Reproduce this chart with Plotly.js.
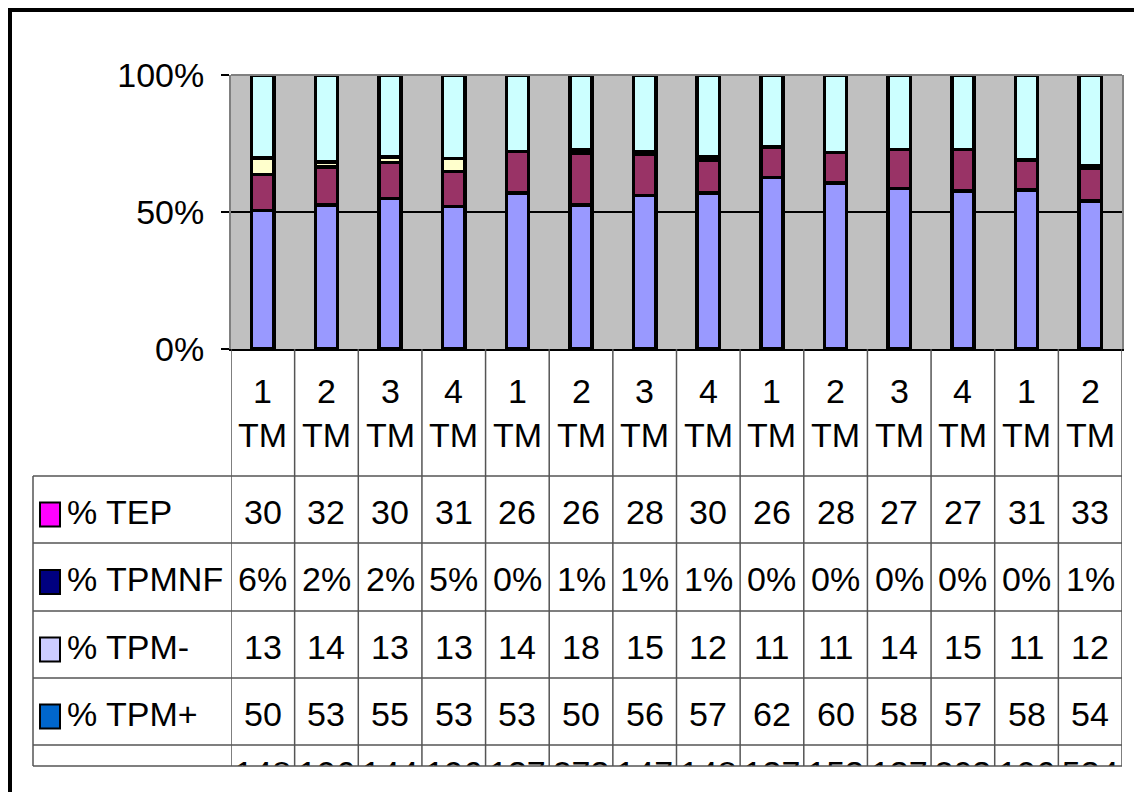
<!DOCTYPE html>
<html>
<head>
<meta charset="utf-8">
<script src="https://cdn.plot.ly/plotly-3.0.1.min.js"></script>
<style>html,body{margin:0;padding:0;background:#fff;}#chart{width:1134px;height:792px;}</style>
</head>
<body>
<div id="chart"></div>
<script>
// ---- data ----
const categories = ['1','2','3','4','1','2','3','4','1','2','3','4','1','2'];
const periodUnit = 'TM';
const seriesNames = ['% TEP', '% TPMNF', '% TPM-', '% TPM+'];
const tep      = [30, 32, 30, 31, 26, 26, 28, 30, 26, 28, 27, 27, 31, 33];
const tpmnf    = [6, 2, 2, 5, 0, 1, 1, 1, 0, 0, 0, 0, 0, 1];
const tpmMinus = [13, 14, 13, 13, 14, 18, 15, 12, 11, 11, 14, 15, 11, 12];
const tpmPlus  = [50, 53, 55, 53, 53, 50, 56, 57, 62, 60, 58, 57, 58, 54];
const nCount   = [148, 196, 144, 196, 137, 273, 147, 148, 137, 153, 137, 203, 196, 534];
const yTickVals = [0, 50, 100];
const yTickText = ['0%', '50%', '100%'];

// ---- styling ----
const W = 1134, H = 792;
const FONT = "'Liberation Sans Narrow', 'Arial Narrow', 'Liberation Sans', Arial, sans-serif";
const FS = 34;
const barColors = {'% TEP':'#CCFFFF', '% TPMNF':'#FFFFCC', '% TPM-':'#993366', '% TPM+':'#9999FF'};
const keyColors = {'% TEP':'#FF00FF', '% TPMNF':'#000080', '% TPM-':'#CCCCFF', '% TPM+':'#0066CC'};
const px = p => p / W;
const py = p => 1 - p / H;

const plotL = 231, plotR = 1122, plotT = 75, plotB = 349;
const tableL = 33;
const rowLines = [476, 543, 611, 678, 745, 766];

const xs = categories.map((_, i) => i);
const seriesData = {'% TEP': tep, '% TPMNF': tpmnf, '% TPM-': tpmMinus, '% TPM+': tpmPlus};
const stackOrder = ['% TPM+', '% TPM-', '% TPMNF', '% TEP'];

const traces = stackOrder.map(name => ({
  type: 'bar', x: xs, y: seriesData[name], name: name,
  width: 0.35,
  marker: {color: barColors[name], line: {color: '#000', width: 3.5}},
  hoverinfo: 'skip', xaxis: 'x', yaxis: 'y'
}));

// clipped last row of the data table (only the tops of the numbers show)
traces.push({
  type: 'scatter', mode: 'text', x: xs, y: xs.map(() => -0.5),
  text: nCount.map(String), textposition: 'middle center',
  textfont: {family: FONT, size: FS, color: '#000'},
  cliponaxis: true, hoverinfo: 'skip', xaxis: 'x2', yaxis: 'y2', showlegend: false
});

const shapes = [];
const annotations = [];
// gray plot background
shapes.push({type:'rect', xref:'x domain', yref:'y domain', x0:0, x1:1, y0:0, y1:1,
  fillcolor:'#C0C0C0', line:{width:0}, layer:'below'});
// top border of plot area
shapes.push({type:'line', xref:'x domain', yref:'y domain', x0:0, x1:1, y0:1, y1:1,
  line:{color:'#808080', width:2}});
// outer frame (top & left)
shapes.push({type:'line', xref:'paper', yref:'paper', x0:px(8), x1:1.01, y0:py(10), y1:py(10), line:{color:'#000', width:4}});
shapes.push({type:'line', xref:'paper', yref:'paper', x0:px(10), x1:px(10), y0:py(8), y1:-0.01, line:{color:'#000', width:4}});

const gridCol = '#555';
// table vertical lines at category boundaries
for (let i = 0; i <= categories.length; i++) {
  shapes.push({type:'line', xref:'x', yref:'paper', x0:i-0.5, x1:i-0.5, y0:py(plotB), y1:py(rowLines[rowLines.length-1]),
    line:{color:gridCol, width:1.5}});
}
// left border of legend column
shapes.push({type:'line', xref:'paper', yref:'paper', x0:px(tableL), x1:px(tableL), y0:py(rowLines[0]), y1:py(rowLines[rowLines.length-1]),
  line:{color:gridCol, width:1.5}});
// horizontal table lines
rowLines.forEach(r => {
  shapes.push({type:'line', xref:'paper', yref:'paper', x0:px(tableL), x1:px(plotR), y0:py(r), y1:py(r),
    line:{color:gridCol, width:1.5}});
});

// header row labels
categories.forEach((c, i) => {
  annotations.push({xref:'x', yref:'paper', x:i, y:py((plotB + rowLines[0]) / 2), text: c + '<br>' + periodUnit,
    showarrow:false, font:{family:FONT, size:FS, color:'#000'}, xanchor:'center', yanchor:'middle'});
});

// data rows
const tableRows = ['% TEP', '% TPMNF', '% TPM-', '% TPM+'];
tableRows.forEach((name, r) => {
  const yc = py((rowLines[r] + rowLines[r+1]) / 2 + 2);
  const vals = seriesData[name];
  vals.forEach((v, i) => {
    annotations.push({xref:'x', yref:'paper', x:i, y:yc, text: name === '% TPMNF' ? v + '%' : String(v),
      showarrow:false, font:{family:FONT, size:FS, color:'#000'}, xanchor:'center', yanchor:'middle'});
  });
  // legend key
  const cy = (rowLines[r] + rowLines[r+1]) / 2 + 5;
  shapes.push({type:'rect', xref:'paper', yref:'paper', x0:px(40), x1:px(60), y0:py(cy-12), y1:py(cy+12),
    fillcolor:keyColors[name], line:{color:'#000', width:2}});
  annotations.push({xref:'paper', yref:'paper', x:px(65), y:yc, text:name, showarrow:false,
    font:{family:FONT, size:FS, color:'#000'}, xanchor:'left', yanchor:'middle'});
});

const layout = {
  width: W, height: H,
  margin: {l:0, r:0, t:0, b:0},
  paper_bgcolor: '#fff', plot_bgcolor: 'rgba(0,0,0,0)',
  showlegend: false,
  barmode: 'stack', barnorm: 'percent',
  font: {family: FONT, size: FS, color: '#000'},
  xaxis: {domain:[px(plotL), px(plotR)], range:[-0.5, categories.length - 0.5], showticklabels:false, ticks:'',
    showline:true, linecolor:'#000', linewidth:2, showgrid:false, zeroline:false, fixedrange:true, anchor:'y'},
  yaxis: {domain:[py(plotB), py(plotT)], range:[0, 100], tickvals:yTickVals, ticktext:yTickText,
    ticks:'outside', ticklen:8, tickcolor:'#000', tickwidth:1.5, ticklabelstandoff:10,
    showline:true, linecolor:'#808080', linewidth:2, mirror:true,
    showgrid:true, gridcolor:'#000', gridwidth:1.2, zeroline:false, tickfont:{family:FONT, size:FS, color:'#000'},
    fixedrange:true, anchor:'x'},
  xaxis2: {domain:[px(plotL), px(plotR)], range:[-0.5, categories.length - 0.5], visible:false, anchor:'y2', fixedrange:true},
  yaxis2: {domain:[py(rowLines[5]), py(rowLines[4])], range:[0, 1], visible:false, anchor:'x2', fixedrange:true},
  shapes: shapes,
  annotations: annotations
};

Plotly.newPlot('chart', traces, layout, {staticPlot:true, displayModeBar:false});
</script>
</body>
</html>
